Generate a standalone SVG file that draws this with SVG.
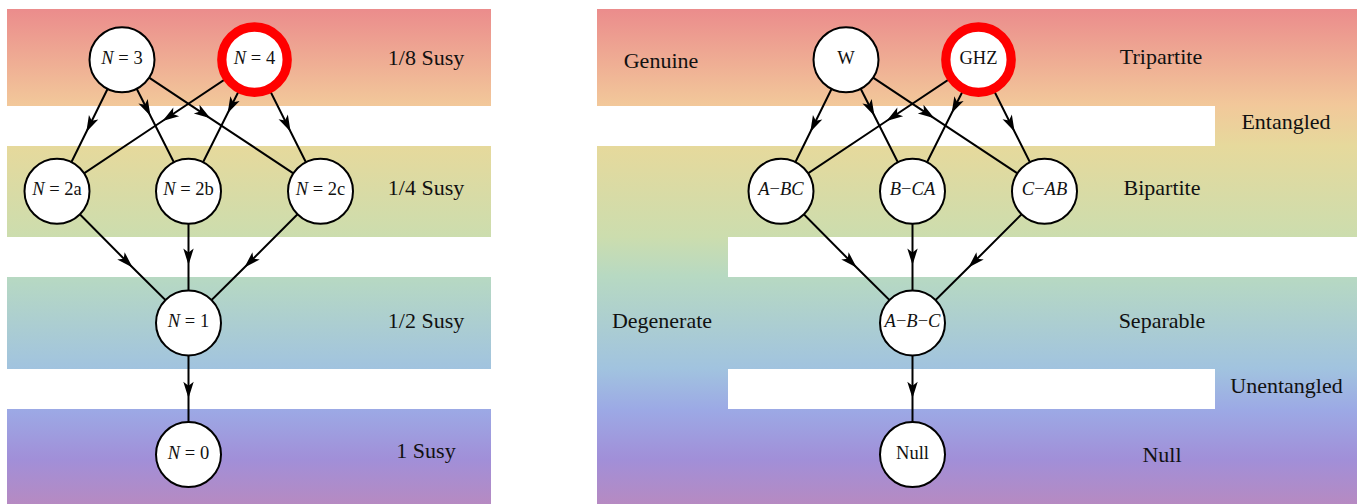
<svg xmlns="http://www.w3.org/2000/svg" xmlns:xlink="http://www.w3.org/1999/xlink" width="1357" height="504" viewBox="0 0 1357 504">
<defs>
<linearGradient id="bg" gradientUnits="userSpaceOnUse" x1="0" y1="9" x2="0" y2="504">
<stop offset="0" stop-color="#EB8C8C"/>
<stop offset="0.194" stop-color="#F2C89A"/>
<stop offset="0.277" stop-color="#E6D99C"/>
<stop offset="0.46" stop-color="#CCDDAE"/>
<stop offset="0.54" stop-color="#B7D9C2"/>
<stop offset="0.727" stop-color="#A1C3DF"/>
<stop offset="0.81" stop-color="#9CA9E5"/>
<stop offset="0.91" stop-color="#A18FD8"/>
<stop offset="1" stop-color="#B68AC2"/>
</linearGradient>
<marker id="ah" viewBox="-18 -7 20 14" refX="0" refY="0" markerWidth="20" markerHeight="14" markerUnits="userSpaceOnUse" orient="auto">
<path d="M0,0 L-16.5,-5.2 L-12.5,0 L-16.5,5.2 Z" fill="#000"/>
</marker>
</defs>
<style>
.band{fill:url(#bg)}
.gap{fill:#fff}
.edge{fill:none;stroke:#000;stroke-width:2;marker-mid:url(#ah)}
.node{fill:#fff;stroke:#000;stroke-width:2}
.hl{fill:#fff;stroke:#FF0000;stroke-width:9.3}
.nt{font-family:"Liberation Serif","Times New Roman",serif;font-size:18.5px;text-anchor:middle;fill:#111}
.it{font-style:italic}
.lab{font-family:"Liberation Serif","Times New Roman",serif;font-size:22px;text-anchor:middle;fill:#111}
</style>
<g id="background">
<rect class="band" x="7" y="9" width="484" height="97"/>
<rect class="band" x="7" y="146" width="484" height="91"/>
<rect class="band" x="7" y="277" width="484" height="92"/>
<rect class="band" x="7" y="409" width="484" height="95"/>
<rect class="band" x="597" y="9" width="760" height="495"/>
<rect class="gap" x="597" y="106" width="618" height="40"/>
<rect class="gap" x="728" y="237" width="629" height="40"/>
<rect class="gap" x="728" y="369" width="487" height="40"/>
</g>
<g id="labels">
<text class="lab" x="426" y="64.5">1/8 Susy</text>
<text class="lab" x="426" y="195">1/4 Susy</text>
<text class="lab" x="426" y="327.5">1/2 Susy</text>
<text class="lab" x="426" y="458">1 Susy</text>
<text class="lab" x="661" y="68">Genuine</text>
<text class="lab" x="1161" y="64">Tripartite</text>
<text class="lab" x="1286" y="129">Entangled</text>
<text class="lab" x="1162" y="195">Bipartite</text>
<text class="lab" x="662" y="328">Degenerate</text>
<text class="lab" x="1162" y="327.5">Separable</text>
<text class="lab" x="1286.5" y="393">Unentangled</text>
<text class="lab" x="1162" y="462">Null</text>
</g>
<g id="connectors">
<path class="edge" d="M122,59.7 L86.3,132 L57,191.3"/>
<path class="edge" d="M122,59.7 L150.5,116 L188.5,191.3"/>
<path class="edge" d="M122,59.7 L210.4,118.3 L320.5,191.3"/>
<path class="edge" d="M254.5,59.7 L162.5,121 L57,191.3"/>
<path class="edge" d="M254.5,59.7 L227.6,113.3 L188.5,191.3"/>
<path class="edge" d="M254.5,59.7 L290.6,131.7 L320.5,191.3"/>
<path class="edge" d="M57,191.3 L132.6,267.5 L188.5,322.9"/>
<path class="edge" d="M188.5,191.3 L188.5,265 L188.5,322.9"/>
<path class="edge" d="M320.5,191.3 L244.4,267.5 L188.5,322.9"/>
<path class="edge" d="M188.5,322.9 L188.5,398.3 L188.5,454.5"/>
<path class="edge" d="M846,59.7 L810.3,132 L781,191.3"/>
<path class="edge" d="M846,59.7 L874.5,116 L912.5,191.3"/>
<path class="edge" d="M846,59.7 L934.4,118.3 L1044.5,191.3"/>
<path class="edge" d="M978.5,59.7 L886.5,121 L781,191.3"/>
<path class="edge" d="M978.5,59.7 L951.6,113.3 L912.5,191.3"/>
<path class="edge" d="M978.5,59.7 L1014.6,131.7 L1044.5,191.3"/>
<path class="edge" d="M781,191.3 L856.6,267.5 L912.5,322.9"/>
<path class="edge" d="M912.5,191.3 L912.5,265 L912.5,322.9"/>
<path class="edge" d="M1044.5,191.3 L968.4,267.5 L912.5,322.9"/>
<path class="edge" d="M912.5,322.9 L912.5,398.3 L912.5,454.5"/>
</g>
<g id="n3"><circle class="node" cx="122" cy="59.7" r="32.5"/><text class="nt" x="122" y="63.7"><tspan class="it">N</tspan> = 3</text></g>
<g id="n4"><circle class="hl" cx="254.5" cy="59.7" r="32.7"/><text class="nt" x="254.5" y="63.7"><tspan class="it">N</tspan> = 4</text></g>
<g id="n2a"><circle class="node" cx="57" cy="191.3" r="32.5"/><text class="nt" x="57" y="195.3"><tspan class="it">N</tspan> = 2a</text></g>
<g id="n2b"><circle class="node" cx="188.5" cy="191.3" r="32.5"/><text class="nt" x="188.5" y="195.3"><tspan class="it">N</tspan> = 2b</text></g>
<g id="n2c"><circle class="node" cx="320.5" cy="191.3" r="32.5"/><text class="nt" x="320.5" y="195.3"><tspan class="it">N</tspan> = 2c</text></g>
<g id="n1"><circle class="node" cx="188.5" cy="322.9" r="32.5"/><text class="nt" x="188.5" y="326.9"><tspan class="it">N</tspan> = 1</text></g>
<g id="n0"><circle class="node" cx="188.5" cy="454.5" r="32.5"/><text class="nt" x="188.5" y="458.5"><tspan class="it">N</tspan> = 0</text></g>
<g id="w"><circle class="node" cx="846" cy="59.7" r="32.5"/><text class="nt" x="846" y="63.7">W</text></g>
<g id="ghz"><circle class="hl" cx="978.5" cy="59.7" r="32.7"/><text class="nt" x="978.5" y="63.7">GHZ</text></g>
<g id="abc1"><circle class="node" cx="781" cy="191.3" r="32.5"/><text class="nt it" x="781" y="195.3">A<tspan font-style="normal">−</tspan>BC</text></g>
<g id="bca"><circle class="node" cx="912.5" cy="191.3" r="32.5"/><text class="nt it" x="912.5" y="195.3">B<tspan font-style="normal">−</tspan>CA</text></g>
<g id="cab"><circle class="node" cx="1044.5" cy="191.3" r="32.5"/><text class="nt it" x="1044.5" y="195.3">C<tspan font-style="normal">−</tspan>AB</text></g>
<g id="a-b-c"><circle class="node" cx="912.5" cy="322.9" r="32.5"/><text class="nt it" x="912.5" y="326.9">A<tspan font-style="normal">−</tspan>B<tspan font-style="normal">−</tspan>C</text></g>
<g id="null"><circle class="node" cx="912.5" cy="454.5" r="32.5"/><text class="nt" x="912.5" y="458.5">Null</text></g>
</svg>
